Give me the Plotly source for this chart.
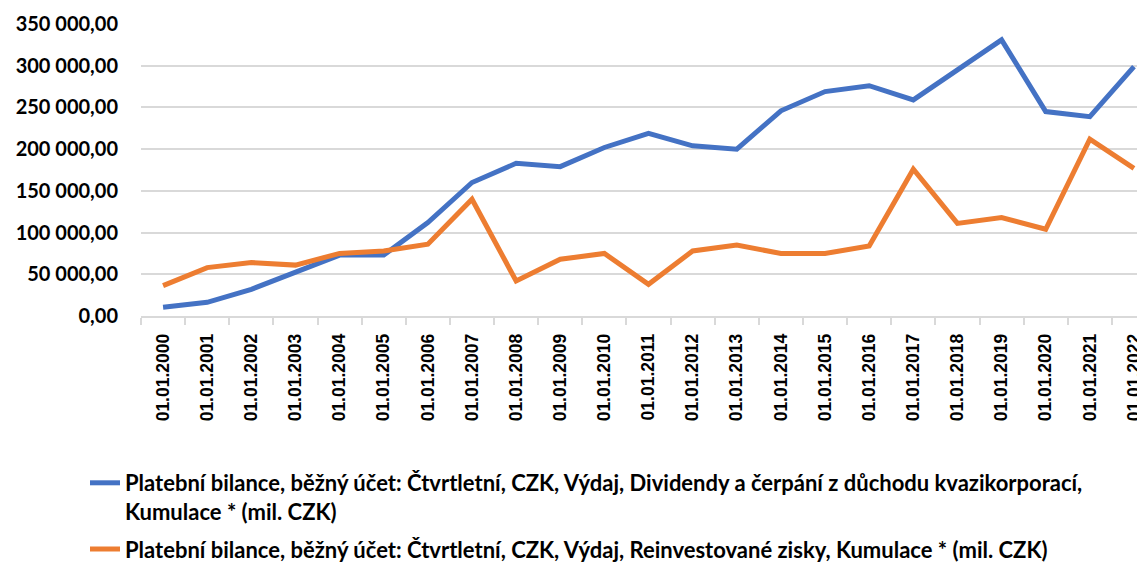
import plotly.graph_objects as go

years = list(range(2000, 2023))
categories = [f"01.01.{y}" for y in years]

dividendy = [10500, 16400, 32000, 52000, 73000, 73000, 112000, 160000, 183000, 179000,
             202000, 219000, 204000, 200000, 246000, 269000, 276000, 259000, 295000,
             331000, 245000, 239000, 299000]
reinvest = [36400, 58000, 64000, 61000, 75000, 78000, 86000, 140000, 42000, 68000,
            75000, 38000, 78000, 85000, 75000, 75000, 84000, 176000, 111000, 118000,
            104000, 212000, 177000]
y_ticks = [0, 50000, 100000, 150000, 200000, 250000, 300000, 350000]

name1 = ("Platební bilance, běžný účet: Čtvrtletní, CZK, Výdaj, Dividendy a čerpání z důchodu kvazikorporací,"
         "<br>Kumulace * (mil. CZK)")
name2 = "Platební bilance, běžný účet: Čtvrtletní, CZK, Výdaj, Reinvestované zisky, Kumulace * (mil. CZK)"

font_family = "Lato, Open Sans, sans-serif"

fig = go.Figure()
fig.add_trace(go.Scatter(x=categories, y=dividendy, mode="lines", name=name1,
                         legendgroup="a",
                         line=dict(color="#4472C4", width=5)))
fig.add_trace(go.Scatter(x=categories, y=reinvest, mode="lines", name=name2,
                         legendgroup="b",
                         line=dict(color="#ED7D31", width=5)))

# the page body adds an 8px margin, so the figure is sized to 1137x559
fig.update_layout(
    width=1137, height=559,
    margin=dict(l=133, r=0, t=16, b=251, autoexpand=False),
    paper_bgcolor="white", plot_bgcolor="white",
    separators=", ",
    font=dict(family=font_family, size=16, color="black"),
    showlegend=True,
    legend=dict(
        x=(85 - 141) / 1004, xref="paper", xanchor="left",
        y=-0.50, yanchor="top",
        orientation="v", traceorder="grouped", tracegroupgap=6,
        valign="top",
        font=dict(family=font_family, size=22, color="black", weight="bold"),
        bgcolor="rgba(0,0,0,0)",
    ),
)
fig.update_xaxes(
    type="category",
    range=[-0.5, 22.25],
    automargin=False,
    tickangle=-90,
    tickfont=dict(family="Liberation Sans, Arial, sans-serif", size=17.5, color="black", weight="bold"),
    ticklabelstandoff=9,
    showgrid=False,
    showline=True, linecolor="#d9d9d9", linewidth=1.5,
    ticks="outside", tickson="boundaries", ticklen=7, tickcolor="#d9d9d9", tickwidth=1.5,
)
fig.update_yaxes(
    range=[0, 350000],
    automargin=False,
    tickvals=y_ticks,
    tickformat=",.2f",
    tickfont=dict(family=font_family, size=20, color="black", weight="bold"),
    ticklabelstandoff=22,
    showgrid=True, gridcolor="#d9d9d9", gridwidth=1.5,
    zeroline=False, showline=False,
    ticks="", ticklen=0,
)

fig.write_html("out.html")
